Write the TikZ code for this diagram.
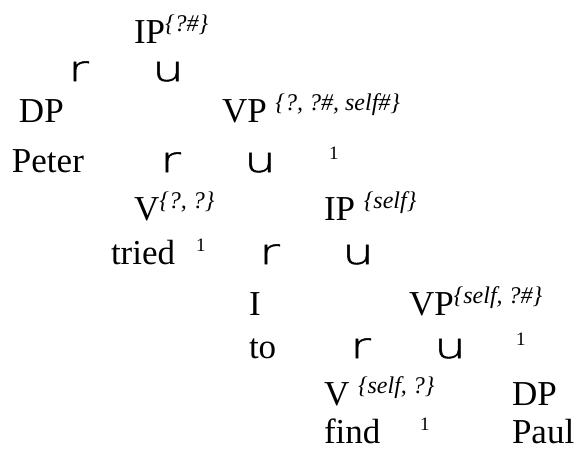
\documentclass[tikz,border=0pt]{standalone}
\usepackage{fontspec}
\setmainfont{Liberation Serif}
\IfFontExistsTF{DejaVu Sans ExtraLight}
  {\newfontfamily\brfont[FakeStretch=1.45,FakeBold=1.5]{DejaVu Sans ExtraLight}}
  {\newfontfamily\brfont[FakeStretch=1.3]{Liberation Sans}}
\newcommand{\supx}[1]{\raisebox{12pt}{\fontsize{24}{24}\selectfont\itshape #1}}
\newcommand{\one}{\raisebox{13pt}{\fontsize{19}{19}\selectfont 1}}
\begin{document}
\begin{tikzpicture}[x=1pt,y=-1pt,
  lab/.style={anchor=base west,inner sep=0pt,outer sep=0pt,font=\fontsize{35}{35}\selectfont},
  br/.style={anchor=base west,inner sep=0pt,outer sep=0pt,font=\fontsize{35}{35}\selectfont\brfont},
  tag/.style={anchor=base west,inner sep=0pt,outer sep=0pt}]
\useasboundingbox (0,0) rectangle (581,451);
% row baselines
\def\rA{43}\def\rB{81}\def\rC{122}\def\rD{172}\def\rE{220}
\def\rF{264}\def\rG{315}\def\rH{358}\def\rI{405}\def\rJ{443}
\node[lab] (ip1) at (134,\rA) {IP\supx{\{?\#\}}};
\node[br] (r1) at (68,\rB) {r};
\node[br] (u1) at (152,\rB) {u};
\node[lab] (dp1) at (19,\rC) {DP};
\node[lab] (vp1) at (222,\rC) {VP \supx{\{?, ?\#, self\#\}}};
\node[lab] (peter) at (12,\rD) {Peter};
\node[br] (r2) at (160,\rD) {r};
\node[br] (u2) at (244,\rD) {u};
\node[tag] (o1) at (329,\rD) {\one};
\node[lab] (v1) at (134,\rE) {V\supx{\{?, ?\}}};
\node[lab] (ip2) at (324,\rE) {IP \supx{\{self\}}};
\node[lab] (tried) at (111,\rF) {tried};
\node[tag] (o2) at (196,\rF) {\one};
\node[br] (r3) at (259,\rF) {r};
\node[br] (u3) at (342,\rF) {u};
\node[lab] (i1) at (249,\rG) {I};
\node[lab] (vp2) at (409,\rG) {VP\supx{\{self, ?\#\}}};
\node[lab] (to) at (249,\rH) {to};
\node[br] (r4) at (350,\rH) {r};
\node[br] (u4) at (434,\rH) {u};
\node[tag] (o3) at (516,\rH) {\one};
\node[lab] (v2) at (324,\rI) {V \supx{\{self, ?\}}};
\node[lab] (dp2) at (512,\rI) {DP};
\node[lab] (find) at (324,\rJ) {find};
\node[tag] (o4) at (420,\rJ) {\one};
\node[lab] (paul) at (512,\rJ) {Paul};
\end{tikzpicture}
\end{document}
